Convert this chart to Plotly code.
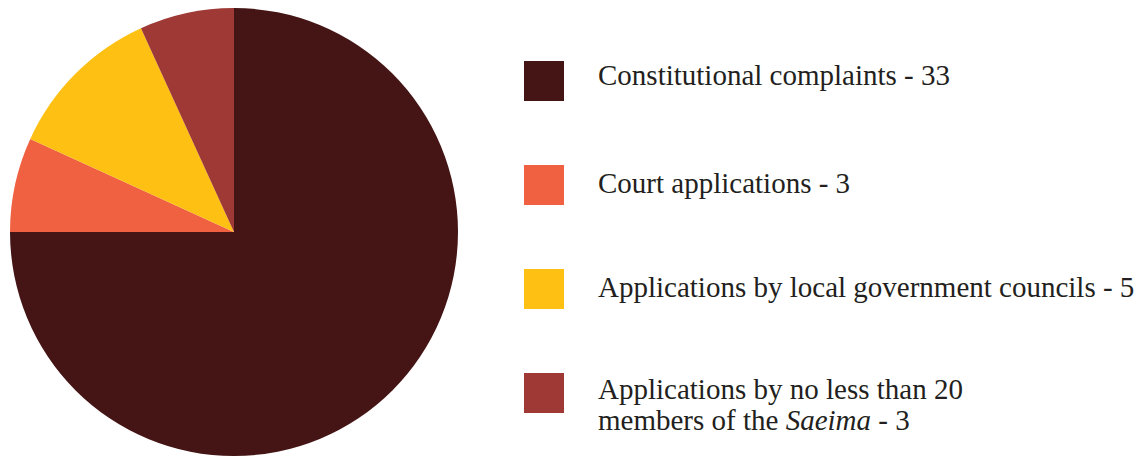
import plotly.graph_objects as go

# Applications received, by type of applicant
categories = [
    "Constitutional complaints",
    "Court applications",
    "Applications by local government councils",
    "Applications by no less than 20<br>members of the <i>Saeima</i>",
]
counts = [33, 3, 5, 3]
colors = ["#451516", "#F06142", "#FDC013", "#9E3935"]

W, H = 1138, 458

fig = go.Figure()
fig.add_trace(go.Pie(
    labels=categories,
    values=counts,
    marker=dict(colors=colors, line=dict(width=0)),
    sort=False,
    direction="clockwise",
    rotation=0,
    textinfo="none",
    hoverinfo="label+value",
    showlegend=False,
    domain=dict(x=[10 / W, 458 / W], y=[1 - 456 / H, 1 - 8 / H]),
))

# Hand-built legend: coloured squares with text to the right
square_centers = [81, 185, 289, 393]   # pixel rows from the top
text_centers = [[75.5], [183], [287], [389, 420]]  # one entry per text line
sq = 40
sq_left = 524
text_left = 596
font = dict(family="Liberation Serif, DejaVu Serif, serif", size=29, color="#231F20")

shapes = []
annotations = []
for cat, n, col, yc, tys in zip(categories, counts, colors, square_centers, text_centers):
    shapes.append(dict(
        type="rect", xref="paper", yref="paper",
        x0=sq_left / W, x1=(sq_left + sq) / W,
        y0=1 - (yc + sq / 2) / H, y1=1 - (yc - sq / 2) / H,
        fillcolor=col, line=dict(width=0),
    ))
    lines = f"{cat} - {n}".split("<br>")
    for line, ty in zip(lines, tys):
        annotations.append(dict(
            xref="paper", yref="paper",
            x=text_left / W, y=1 - ty / H,
            xanchor="left", yanchor="middle", align="left",
            text=line, showarrow=False, font=font,
        ))

fig.update_layout(
    width=W, height=H,
    margin=dict(l=0, r=0, t=0, b=0),
    paper_bgcolor="white",
    plot_bgcolor="white",
    shapes=shapes,
    annotations=annotations,
)

fig.write_html("out.html")
